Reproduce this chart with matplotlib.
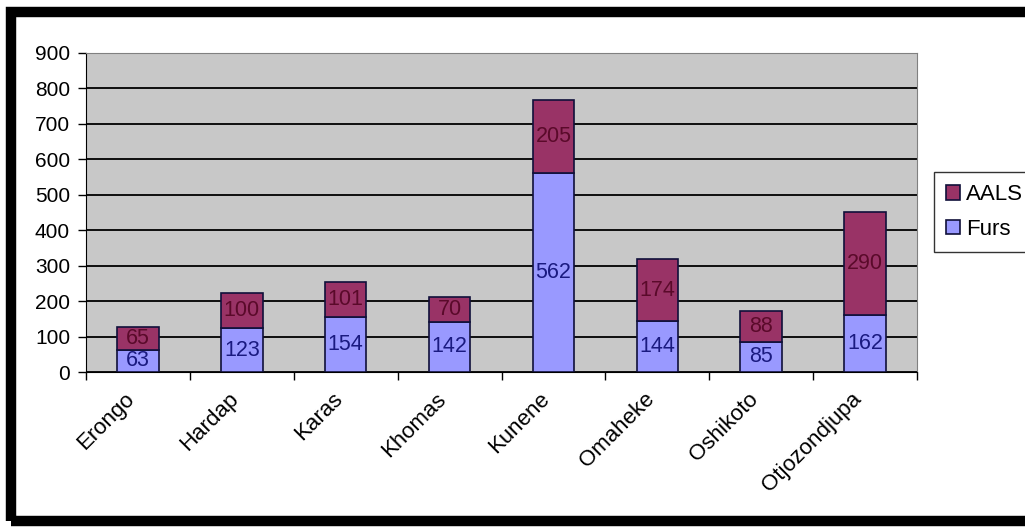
import matplotlib
matplotlib.use("Agg")
import matplotlib.pyplot as plt
from matplotlib.patches import Rectangle
from matplotlib.transforms import ScaledTranslation
import numpy as np

regions = ["Erongo", "Hardap", "Karas", "Khomas", "Kunene", "Omaheke", "Oshikoto", "Otjozondjupa"]
furs = [63, 123, 154, 142, 562, 144, 85, 162]
aals = [65, 100, 101, 70, 205, 174, 88, 290]

plt.rcParams['font.family'] = ['Liberation Sans', 'DejaVu Sans']

W, H = 1025, 527
fig = plt.figure(figsize=(W / 100, H / 100), dpi=100)
fig.patch.set_facecolor("white")

ax = fig.add_axes([86 / W, 1 - 372 / H, (917 - 86) / W, (372 - 53) / H])
ax.set_facecolor("#c8c8c8")

x = np.arange(len(regions))
bw = 0.40
b1 = ax.bar(x, furs, bw, color="#9999ff", edgecolor="#10103a", linewidth=1.2, label="Furs", zorder=3)
b2 = ax.bar(x, aals, bw, bottom=furs, color="#993366", edgecolor="#10103a", linewidth=1.2, label="AALS", zorder=3)

for i in range(len(regions)):
    ax.text(x[i], furs[i] / 2, str(furs[i]), ha="center", va="center",
            fontsize=15.5, color="#1a1a80", zorder=4)
    ax.text(x[i], furs[i] + aals[i] / 2, str(aals[i]), ha="center", va="center",
            fontsize=15.5, color="#5a0a2a", zorder=4)

ax.set_xlim(-0.5, len(regions) - 0.5)
ax.set_ylim(0, 900)
ax.set_yticks(np.arange(0, 901, 100))
ax.yaxis.grid(True, color="black", linewidth=1.3, zorder=1)
ax.set_axisbelow(True)
ax.tick_params(axis="y", direction="out", length=5.5, width=1, pad=6, labelsize=15)

# category ticks sit between bars, labels under bar centres
ax.set_xticks(np.arange(-0.5, len(regions) + 0.5, 1))
ax.set_xticklabels([])
ax.tick_params(axis="x", which="major", direction="out", length=6, width=1)
ax.set_xticks(x, minor=True)
ax.set_xticklabels(regions, minor=True, rotation=45, ha="right", va="top",
                   rotation_mode="anchor", fontsize=16)
ax.tick_params(axis="x", which="minor", length=0, pad=12)
shift = ScaledTranslation(-10 / 72, 0, fig.dpi_scale_trans)
for lab in ax.get_xticklabels(minor=True):
    lab.set_transform(lab.get_transform() + shift)

ax.spines["left"].set_color("black")
ax.spines["bottom"].set_color("black")
ax.spines["top"].set_color("#808080")
ax.spines["right"].set_color("#808080")

handles = [b2, b1]
leg = fig.legend(handles, ["AALS", "Furs"], loc="center left",
                 bbox_to_anchor=(934 / W, 1 - 212 / H), fontsize=16,
                 frameon=True, fancybox=False, edgecolor="black",
                 handlelength=0.6, handleheight=0.6, handletextpad=0.3,
                 borderpad=0.55, labelspacing=0.6, borderaxespad=0)
leg.get_frame().set_linewidth(1.0)

# black outer frame (right side falls outside the picture)
frame = Rectangle((11 / W, 6 / H), 1.2, 1 - 18 / H, transform=fig.transFigure,
                  fill=False, edgecolor="black", linewidth=7.5, clip_on=False)
fig.add_artist(frame)

fig.savefig("out.png", dpi=100, facecolor="white")
